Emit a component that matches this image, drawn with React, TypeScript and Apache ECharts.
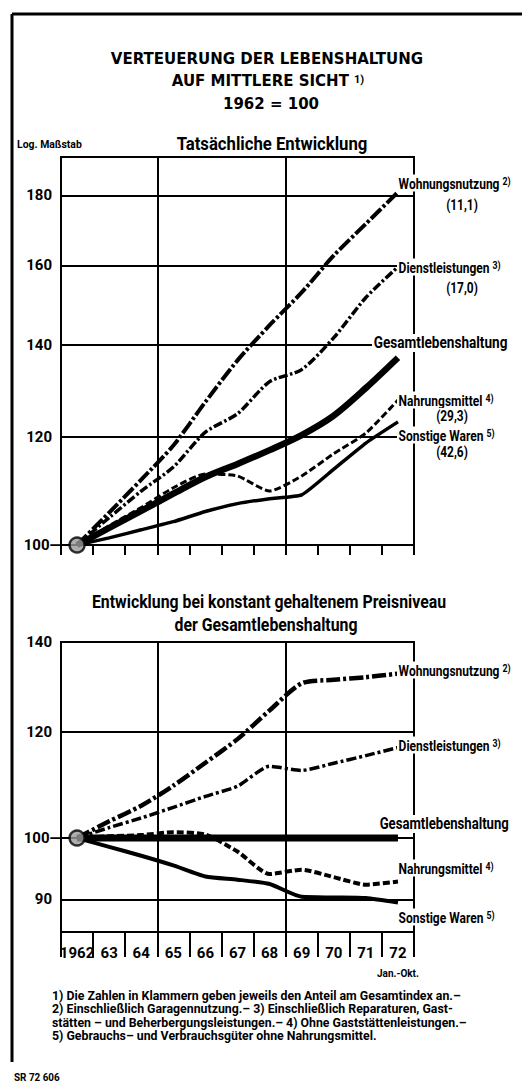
import React, { useEffect, useRef } from 'react';
import * as echarts from 'echarts';

// Categories (years)
const years = ['1962', '63', '64', '65', '66', '67', '68', '69', '70', '71', '72'];

// Top chart: actual development (1962 = 100), log scale
const topWohnung = [100, 105.6, 111.6, 118.2, 127.2, 136.4, 144.7, 152.9, 162.7, 171.6, 181.0];
const topDienst = [100, 104.7, 109.5, 114.0, 120.9, 124.7, 131.6, 134.3, 141.7, 151.6, 159.6];
const topGesamt = [100, 102.9, 105.9, 109.0, 112.1, 114.6, 117.3, 120.3, 124.3, 130.2, 137.0];
const topNahrung = [100, 103.3, 106.5, 110.1, 112.7, 112.3, 109.5, 112.3, 116.6, 120.7, 127.6];
const topSonstige = [100, 101.2, 102.6, 104.0, 105.8, 107.2, 108.1, 108.8, 113.6, 118.7, 123.0];

// Bottom chart: at constant overall price level
const botWohnung = [100, 102.9, 105.7, 109.4, 113.8, 118.5, 124.5, 130.4, 131.2, 131.8, 132.6];
const botDienst = [100, 101.8, 103.5, 105.4, 107.4, 109.3, 113.1, 112.3, 113.7, 115.2, 116.8];
const botGesamt = [100, 100, 100, 100, 100, 100, 100, 100, 100, 100, 100];
const botNahrung = [100, 100.3, 100.5, 101.0, 100.6, 97.7, 94.0, 94.7, 93.5, 92.3, 92.8];
const botSonstige = [100, 98.5, 97.0, 95.4, 93.6, 93.1, 92.4, 90.4, 90.3, 90.2, 89.5];

// Tick / gridline values
const topTicks = [100, 120, 140, 160, 180];
const botTicks = [140, 120, 100, 90];
const topRange = [100, 192];
const botRange = [85.1, 140];
const boundaries = [0, 1, 2, 3, 4, 5, 6, 7, 8, 9, 10, 11];

const FONT = "Roboto, 'Liberation Sans', sans-serif";
const TFONT = "'DejaVu Sans', Roboto, sans-serif";

function lineSeries(name: string, data: number[], idx: number, width: number, type: any, smooth: number | boolean) {
  return {
    type: 'line',
    name,
    data,
    xAxisIndex: idx,
    yAxisIndex: idx,
    symbol: 'none',
    smooth,
    z: 3,
    lineStyle: { color: '#000', width, type, cap: 'butt', join: 'round' },
  };
}

function gridMarks(values: number[]) {
  return {
    silent: true,
    symbol: ['none', 'none'],
    lineStyle: { color: '#000', width: 2, type: 'solid' },
    label: {
      position: 'start',
      distance: 9,
      color: '#000',
      fontFamily: FONT,
      fontWeight: 'bold',
      fontSize: 15,
      formatter: (p: any) => (p.value === 100 ? '100—' : String(p.value)),
    },
    emphasis: { disabled: true },
    data: values.map((v) => (v === 100 ? { yAxis: v, label: { distance: 0 } } : { yAxis: v })),
  };
}

// Year axis; its ticks mark the boundaries between the years
function xAxis(idx: number, bottom: boolean) {
  return {
    type: 'category',
    gridIndex: idx,
    data: years,
    axisLine: { show: true, lineStyle: { color: '#000', width: 2 } },
    axisTick: { show: true, interval: 0, length: bottom ? 25 : 10, lineStyle: { color: '#000', width: 2 } },
    axisLabel: bottom
      ? {
          show: true,
          interval: 0,
          margin: 11,
          formatter: (v: string) => (v === '72' ? '{a|72}\n{b|Jan.-Okt.}' : '{a|' + v + '}'),
          rich: {
            a: { fontFamily: FONT, fontWeight: 'bold', fontSize: 15, color: '#000', lineHeight: 20 },
            b: { fontFamily: FONT, fontWeight: 'bold', fontSize: 10, color: '#000', lineHeight: 20 },
          },
        }
      : { show: false },
    splitLine: { show: false },
  };
}

// Helper value axis over the category boundaries (0..11) for the two vertical gridlines
function boundaryAxis(idx: number) {
  return {
    type: 'value',
    gridIndex: idx,
    min: boundaries[0],
    max: boundaries[boundaries.length - 1],
    interval: 1,
    axisLine: { show: false },
    axisTick: { show: false },
    axisLabel: { show: false },
    splitLine: {
      show: true,
      lineStyle: {
        color: boundaries.map((b) => (b === 3 || b === 7 ? '#000' : 'rgba(0,0,0,0)')),
        width: 2,
      },
    },
  };
}

function yAxis(idx: number, range: number[]) {
  return {
    type: 'log',
    logBase: 10,
    gridIndex: idx,
    min: range[0],
    max: range[1],
    axisLine: { show: true, lineStyle: { color: '#000', width: 2 } },
    axisTick: { show: false },
    axisLabel: { show: false },
    splitLine: { show: false },
  };
}

function txt(
  text: string,
  x: number,
  y: number,
  size: number,
  align: string = 'left',
  sx: number = 0.82,
  family: string = FONT,
  bg = false,
  rich?: any
) {
  const style: any = {
    text,
    x: 0,
    y: 0,
    fill: '#000',
    font: `bold ${size}px ${family}`,
    textAlign: align,
    textVerticalAlign: 'middle',
  };
  if (bg) {
    style.backgroundColor = '#fff';
    style.padding = [1, 2];
  }
  if (rich) style.rich = rich;
  return { type: 'text', z: 100, x, y, scaleX: sx, style };
}

const sup = (size: number) => ({ s: { font: `bold ${size}px ${FONT}`, fill: '#000', verticalAlign: 'top' } });

function startCircle(idx: number, value: number) {
  return {
    type: 'scatter',
    xAxisIndex: idx,
    yAxisIndex: idx,
    data: [[years[0], value]],
    symbol: 'circle',
    symbolSize: 15,
    z: 10,
    itemStyle: { color: '#9a9a9a', borderColor: '#000', borderWidth: 2.5 },
  };
}

export default function App() {
  const ref = useRef<HTMLDivElement>(null);
  useEffect(() => {
    const chart = echarts.init(ref.current!, null, { renderer: 'svg' });
    const option: any = {
      animation: false,
      backgroundColor: '#fff',
      textStyle: { fontFamily: FONT },
      grid: [
        { left: 61, top: 157, width: 353, height: 388, show: true, borderColor: '#000', borderWidth: 2 },
        { left: 61, top: 642, width: 353, height: 290, show: true, borderColor: '#000', borderWidth: 2 },
      ],
      xAxis: [xAxis(0, false), xAxis(1, true), boundaryAxis(0), boundaryAxis(1)],
      yAxis: [yAxis(0, topRange), yAxis(1, botRange)],
      series: [
        { ...lineSeries('Gesamtlebenshaltung', topGesamt, 0, 6.5, 'solid', 0.3), markLine: gridMarks(topTicks) },
        lineSeries('Wohnungsnutzung', topWohnung, 0, 4, [14, 2.5, 3, 2.5], 0.25),
        lineSeries('Dienstleistungen', topDienst, 0, 3.5, [9, 2.5, 2.5, 2.5], 0.25),
        lineSeries('Nahrungsmittel', topNahrung, 0, 3, [7, 3], 0.2),
        lineSeries('Sonstige Waren', topSonstige, 0, 3.5, 'solid', 0.15),
        startCircle(0, topGesamt[0]),
        { ...lineSeries('Gesamtlebenshaltung', botGesamt, 1, 7, 'solid', false), markLine: gridMarks(botTicks) },
        lineSeries('Wohnungsnutzung', botWohnung, 1, 4.5, [14, 3, 3, 3], 0.25),
        lineSeries('Dienstleistungen', botDienst, 1, 3.5, [10, 3, 3, 3], 0.2),
        lineSeries('Nahrungsmittel', botNahrung, 1, 4, [7, 3], 0.2),
        lineSeries('Sonstige Waren', botSonstige, 1, 4, 'solid', 0.2),
        startCircle(1, botGesamt[0]),
      ],
      graphic: [
        { type: 'line', z: 100, shape: { x1: 12, y1: 14, x2: 522, y2: 14 }, style: { stroke: '#000', lineWidth: 3 } },
        { type: 'line', z: 100, shape: { x1: 12, y1: 14, x2: 12, y2: 1062 }, style: { stroke: '#000', lineWidth: 3 } },
        txt('VERTEUERUNG DER LEBENSHALTUNG', 267, 59, 15, 'center', 1, TFONT),
        txt('AUF MITTLERE SICHT {s|1)}', 268, 81, 15, 'center', 1, TFONT, false, sup(11)),
        txt('1962 = 100', 271, 104, 15, 'center', 1, TFONT),
        txt('Tatsächliche Entwicklung', 272, 143, 19, 'center', 0.88),
        txt('Log. Maßstab', 17, 144, 11, 'left', 0.95),
        // top series labels
        txt('Wohnungsnutzung {s|2)}', 397, 183, 15, 'left', 0.8, FONT, true, sup(11)),
        txt('(11,1)', 462, 205, 14, 'center', 0.85),
        txt('Dienstleistungen {s|3)}', 397, 267, 15, 'left', 0.8, FONT, true, sup(11)),
        txt('(17,0)', 462, 288, 14, 'center', 0.85),
        txt('Gesamtlebenshaltung', 372, 343, 16, 'left', 0.85, FONT, true),
        txt('Nahrungsmittel {s|4)}', 397, 400, 15, 'left', 0.8, FONT, true, sup(11)),
        txt('(29,3)', 452, 416, 14, 'center', 0.85, FONT, true),
        txt('Sonstige Waren {s|5)}', 397, 435, 15, 'left', 0.8, FONT, true, sup(11)),
        txt('(42,6)', 452, 452, 14, 'center', 0.85, FONT, true),
        // bottom titles
        txt('Entwicklung bei konstant gehaltenem Preisniveau', 269, 602, 18, 'center', 0.88),
        txt('der Gesamtlebenshaltung', 266, 625, 18, 'center', 0.88),
        // bottom series labels
        txt('Wohnungsnutzung {s|2)}', 397, 670, 15, 'left', 0.8, FONT, true, sup(11)),
        txt('Dienstleistungen {s|3)}', 397, 745, 15, 'left', 0.8, FONT, true, sup(11)),
        txt('Gesamtlebenshaltung', 378, 824, 16, 'left', 0.82, FONT, true),
        txt('Nahrungsmittel {s|4)}', 397, 868, 15, 'left', 0.8, FONT, true, sup(11)),
        txt('Sonstige Waren {s|5)}', 397, 917, 15, 'left', 0.8, FONT, true, sup(11)),
        // footnotes
        txt('1) Die Zahlen in Klammern geben jeweils den Anteil am Gesamtindex an.–', 52, 995, 13, 'left', 0.95),
        txt('2) Einschließlich Garagennutzung.– 3) Einschließlich Reparaturen, Gast-', 52, 1008.5, 13, 'left', 0.95),
        txt('stätten – und Beherbergungsleistungen.– 4) Ohne Gaststättenleistungen.–', 52, 1022, 13, 'left', 0.95),
        txt('5) Gebrauchs– und Verbrauchsgüter ohne Nahrungsmittel.', 52, 1035.5, 13, 'left', 0.95),
        txt('SR 72 606', 14, 1077, 11, 'left', 0.9),
      ],
    };
    chart.setOption(option);
    return () => chart.dispose();
  }, []);
  return <div ref={ref} style={{ position: 'absolute', left: 0, top: 0, width: 522, height: 1090, background: '#fff' }} />;
}
